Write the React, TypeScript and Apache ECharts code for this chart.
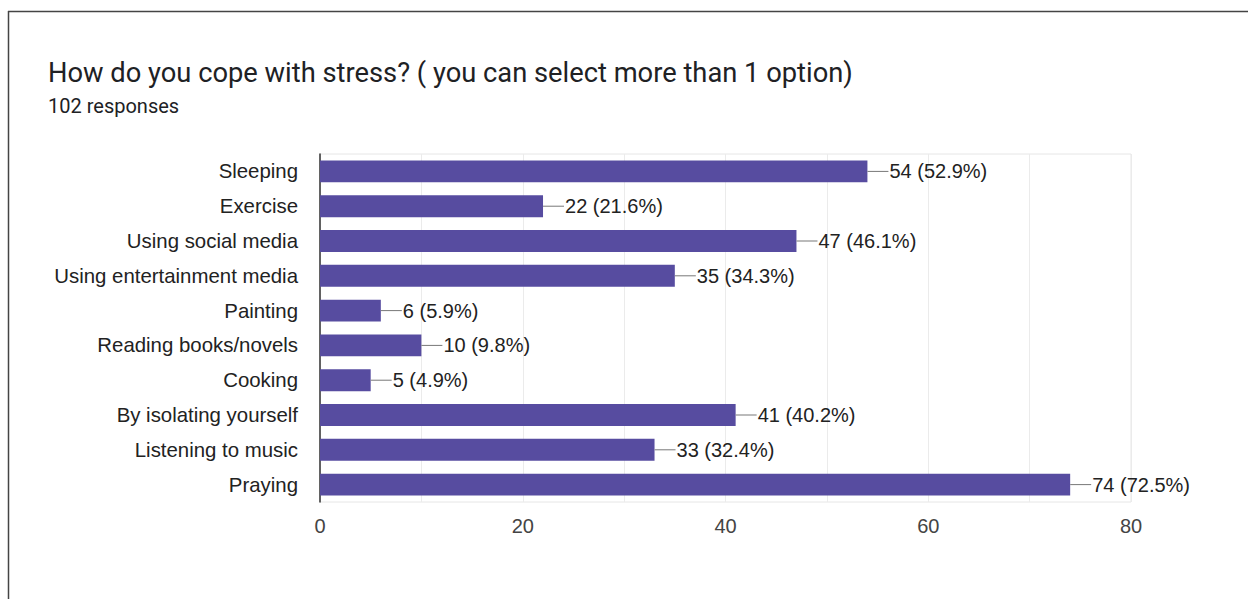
import React, { useEffect, useRef } from "react";
import * as echarts from "echarts";

const categories = [
  "Sleeping",
  "Exercise",
  "Using social media",
  "Using entertainment media",
  "Painting",
  "Reading books/novels",
  "Cooking",
  "By isolating yourself",
  "Listening to music",
  "Praying",
];
const counts = [54, 22, 47, 35, 6, 10, 5, 41, 33, 74];
const percents = ["52.9%", "21.6%", "46.1%", "34.3%", "5.9%", "9.8%", "4.9%", "40.2%", "32.4%", "72.5%"];
const xTicks = [0, 20, 40, 60, 80];

export default function App() {
  const ref = useRef<HTMLDivElement>(null);
  useEffect(() => {
    if (!ref.current) return;
    const chart = echarts.init(ref.current, null, { renderer: "svg" });
    chart.setOption({
      animation: false,
      backgroundColor: "#ffffff",
      title: [
        {
          text: "How do you cope with stress? ( you can select more than 1 option)",
          left: 43,
          top: 54,
          textStyle: { fontFamily: "Roboto", fontSize: 27.3, fontWeight: "normal", color: "#202124" },
        },
        {
          text: "102 responses",
          left: 43,
          top: 91,
          textStyle: { fontFamily: "Roboto", fontSize: 20, fontWeight: "normal", color: "#202124" },
        },
      ],
      graphic: [
        { type: "line", shape: { x1: 8, y1: 11.5, x2: 1248, y2: 11.5 }, style: { stroke: "#444", lineWidth: 1.5 } },
        { type: "line", shape: { x1: 8.5, y1: 11, x2: 8.5, y2: 599 }, style: { stroke: "#444", lineWidth: 1.5 } },
      ],
      grid: {
        left: 320,
        right: 117,
        top: 154,
        bottom: 97,
        show: true,
        borderColor: "#e6e6e6",
        borderWidth: 1,
      },
      xAxis: {
        type: "value",
        min: 0,
        max: 80,
        interval: 10,
        axisLine: { show: false },
        axisTick: { show: false },
        splitLine: { show: true, lineStyle: { color: "#ebebeb", width: 1 } },
        axisLabel: {
          margin: 14,
          fontFamily: "Liberation Sans",
          fontSize: 20,
          color: "#444",
          formatter: (v: number) => (xTicks.includes(v) ? String(v) : ""),
        },
      },
      yAxis: {
        type: "category",
        data: categories,
        inverse: true,
        axisLine: { show: true, lineStyle: { color: "#333", width: 1.5 } },
        axisTick: { show: false },
        axisLabel: {
          margin: 22,
          fontFamily: "Liberation Sans",
          fontSize: 20.4,
          color: "#222",
        },
      },
      series: [
        {
          type: "bar",
          data: counts,
          barCategoryGap: "37%",
          itemStyle: { color: "#574ca0" },
          label: {
            show: true,
            position: "right",
            distance: 0,
            formatter: (p: any) => `{ln|}{t|${p.value} (${percents[p.dataIndex]})}`,
            rich: {
              ln: { width: 21, height: 1, backgroundColor: "#777" },
              t: { fontFamily: "Liberation Sans", fontSize: 20, color: "#222", padding: [0, 0, 0, 1] },
            },
          },
        },
      ],
    });
    return () => chart.dispose();
  }, []);
  return (
    <div
      ref={ref}
      style={{ position: "fixed", left: 0, top: 0, width: 1248, height: 599, background: "#fff" }}
    />
  );
}
